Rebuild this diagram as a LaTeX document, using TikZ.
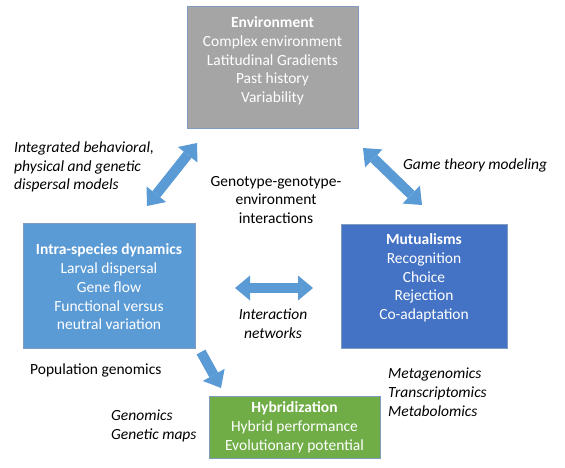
\documentclass[tikz,border=0pt]{standalone}
\usepackage{fontspec}
\setmainfont{Carlito}
\usetikzlibrary{arrows.meta, positioning, calc}

\definecolor{envgray}{HTML}{A5A5A5}
\definecolor{intrablue}{HTML}{5B9BD5}
\definecolor{mutblue}{HTML}{4472C4}
\definecolor{hybgreen}{HTML}{70AD47}
\definecolor{boxline}{HTML}{7F9CC0}

\begin{document}
\begin{tikzpicture}[x=1pt, y=-1pt,
        >={Triangle[length=15pt 0 0, width=25pt 0 0, line width=0pt 0 0]},
        font=\fontsize{15.5}{18.8}\selectfont,
        box/.style={rectangle, draw=boxline, line width=0.6pt, inner sep=0pt},
        boxtext/.style={text=white, align=center, inner sep=0pt},
        note/.style={align=left, inner sep=0pt, font=\fontsize{15.5}{18.8}\selectfont\itshape},
        plain/.style={align=center, inner sep=0pt},
        fat/.style={line width=10pt, draw=intrablue}]

    \useasboundingbox (0,0) rectangle (565,468);

    % Boxes
    \node (env) [box, fill=envgray, minimum width=171pt, minimum height=122pt] at (272.5,67) {};
    \node (envtxt) [boxtext] at ([yshift=6pt]env.center)
        {\textbf{Environment}\\Complex environment\\Latitudinal Gradients\\Past history\\Variability};

    \node (intra) [box, fill=intrablue, minimum width=172pt, minimum height=125pt] at (109,285.5) {};
    \node (intratxt) [boxtext] at ([yshift=-1.5pt]intra.center)
        {\textbf{Intra-species dynamics}\\Larval dispersal\\Gene flow\\Functional versus\\neutral variation};

    \node (mutual) [box, fill=mutblue, minimum width=166pt, minimum height=124pt] at (424,286) {};
    \node (mutualtxt) [boxtext] at ([yshift=8pt]mutual.center)
        {\textbf{Mutualisms}\\Recognition\\Choice\\Rejection\\Co-adaptation};

    \node (hybrid) [box, fill=hybgreen, minimum width=171pt, minimum height=62pt] at (294.5,427) {};
    \node (hybridtxt) [boxtext] at ([yshift=-0.5pt]hybrid.center)
        {\textbf{Hybridization}\\Hybrid performance\\Evolutionary potential};

    % Block arrows
    \coordinate (a1s) at (147,206);
    \coordinate (a1e) at (197,143);
    \coordinate (a2s) at (363,148);
    \coordinate (a2e) at (422,205);
    \coordinate (a3s) at (235,288);
    \coordinate (a3e) at (313,288);
    \coordinate (a4s) at (201,352);
    \coordinate (a4e) at (221,388);
    \draw [fat, <->] (a1s) -- (a1e);
    \draw [fat, <->] (a2s) -- (a2e);
    \draw [fat, <->] (a3s) -- (a3e);
    \draw [fat, ->] (a4s) -- (a4e);

    % Labels
    \node (integ) [note, anchor=west] at (14,167) {Integrated behavioral,\\physical and genetic\\dispersal models};
    \node (geno) [plain] at (276,200) {Genotype-genotype-\\environment\\interactions};
    \node (game) [note, anchor=west] at (403,165) {Game theory modeling};
    \node (inter) [note, align=center] at (273,324) {Interaction\\networks};
    \node (popgen) [plain, anchor=west] at (30,370) {Population genomics};
    \node (genom) [note, anchor=west] at (111,426) {Genomics\\Genetic maps};
    \node (meta) [note, anchor=west] at (388,392) {Metagenomics\\Transcriptomics\\Metabolomics};

\end{tikzpicture}
\end{document}
